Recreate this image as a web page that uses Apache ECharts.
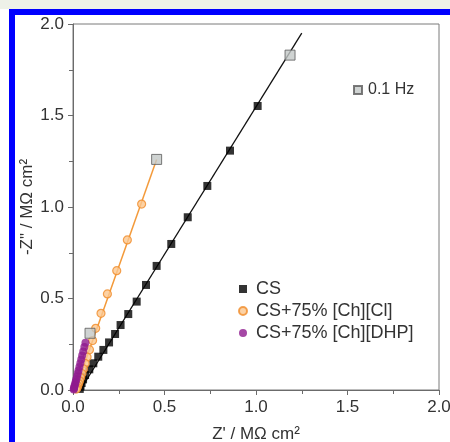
<!DOCTYPE html>
<html>
<head>
<meta charset="utf-8">
<script src="https://cdn.jsdelivr.net/npm/echarts@6/dist/echarts.min.js"></script>
<style>
html,body{margin:0;padding:0;background:#fff;}
#c{width:450px;height:442px;}
</style>
</head>
<body>
<div id="c"></div>
<script>
// ---- data, units MΩ cm² ----
const xTicks = [0, 0.5, 1.0, 1.5, 2.0];
const yTicks = [0, 0.5, 1.0, 1.5, 2.0];

const csX = [1.009, 0.858, 0.734, 0.627, 0.537, 0.457, 0.399, 0.348, 0.302, 0.260, 0.230, 0.197, 0.166, 0.138, 0.111, 0.089, 0.066, 0.055, 0.047, 0.041, 0.037];
const csY = [1.552, 1.308, 1.115, 0.944, 0.798, 0.678, 0.574, 0.483, 0.415, 0.355, 0.306, 0.260, 0.219, 0.182, 0.146, 0.113, 0.082, 0.058, 0.038, 0.020, 0.006];

const clX = [0.375, 0.297, 0.239, 0.188, 0.153, 0.124, 0.107, 0.090, 0.077, 0.066, 0.057, 0.049, 0.042, 0.036, 0.031, 0.026, 0.022, 0.018];
const clY = [1.016, 0.820, 0.652, 0.525, 0.419, 0.337, 0.270, 0.220, 0.180, 0.145, 0.115, 0.090, 0.068, 0.050, 0.035, 0.022, 0.012, 0.005];

const dhpX = [0.068, 0.062, 0.056, 0.050, 0.045, 0.040, 0.035, 0.030, 0.026, 0.022, 0.018, 0.015, 0.012, 0.009, 0.007, 0.005, 0.004];
const dhpY = [0.258, 0.235, 0.210, 0.188, 0.166, 0.146, 0.126, 0.107, 0.090, 0.074, 0.059, 0.046, 0.034, 0.024, 0.015, 0.008, 0.003];

// 0.1 Hz points (CS, CS+75% [Ch][Cl], CS+75% [Ch][DHP])
const hzX = [1.186, 0.457, 0.093];
const hzY = [1.830, 1.260, 0.310];

// fit lines (endpoints)
const csFitX = [0.040, 1.250];
const csFitY = [0.000, 1.950];
const clFitX = [0.012, 0.457];
const clFitY = [0.000, 1.260];

const names = ['CS', 'CS+75% [Ch][Cl]', 'CS+75% [Ch][DHP]', '0.1 Hz'];

const zip = (a, b) => a.map((v, i) => [v, b[i]]);
const FONT = "'Liberation Sans', Arial, sans-serif";

const chart = echarts.init(document.getElementById('c'), null, {renderer: 'canvas'});

const axisCommon = {
  min: 0, max: 2, interval: 0.5,
  axisLine: {show: true, onZero: false, lineStyle: {color: '#6b6b6b', width: 1}},
  axisTick: {show: true, inside: false, length: 5, lineStyle: {color: '#6b6b6b'}},
  minorTick: {show: true, splitNumber: 2, length: 4, lineStyle: {color: '#6b6b6b'}},
  splitLine: {show: false},
  axisLabel: {color: '#333', fontSize: 17, fontFamily: FONT, margin: 9,
    formatter: v => v.toFixed(1)},
  nameLocation: 'middle',
  nameMoveOverlap: false,
  nameTextStyle: {color: '#333', fontSize: 17, fontFamily: FONT}
};

chart.setOption({
  animation: false,
  backgroundColor: '#fff',
  graphic: [
    {type: 'rect', shape: {x: 0, y: 0, width: 450, height: 9}, style: {fill: '#eef1e8'}, z: -10},
    {type: 'rect', shape: {x: 9, y: 9, width: 441, height: 6}, style: {fill: '#0000ff'}, z: -10},
    {type: 'rect', shape: {x: 9, y: 9, width: 6, height: 433}, style: {fill: '#0000ff'}, z: -10}
  ],
  grid: {left: 73, right: 11, top: 24, bottom: 52, containLabel: false, outerBoundsMode: 'none',
    show: true, borderColor: '#7a7a7a', borderWidth: 1, backgroundColor: 'transparent'},
  xAxis: Object.assign({}, axisCommon, {
    type: 'value', name: "Z' / MΩ cm²", nameGap: 36
  }),
  yAxis: Object.assign({}, axisCommon, {
    type: 'value', name: '-Z" / MΩ cm²', nameGap: 37, nameRotate: 90
  }),
  legend: [
    {
      data: [names[0], names[1], names[2]],
      orient: 'vertical', left: 233, top: 275,
      itemWidth: 8, itemHeight: 8, itemGap: 4,
      textStyle: {color: '#333', fontSize: 18, fontFamily: FONT, lineHeight: 18, padding: [0, 0, 0, 4]},
      selectedMode: false
    },
    {
      data: [names[3]],
      orient: 'vertical', left: 348, top: 77,
      itemWidth: 8, itemHeight: 8,
      textStyle: {color: '#333', fontSize: 16, fontFamily: FONT, padding: [0, 0, 0, 1]},
      selectedMode: false
    }
  ],
  series: [
    {type: 'line', data: zip(csFitX, csFitY), symbol: 'none', lineStyle: {color: '#111', width: 1.3}, z: 1, silent: true},
    {type: 'line', data: zip(clFitX, clFitY), symbol: 'none', lineStyle: {color: '#f39a3a', width: 1.5}, z: 1, silent: true},
    {name: names[0], type: 'scatter', data: zip(csX, csY), symbol: 'rect', symbolSize: 8,
      itemStyle: {color: '#000'}, z: 3},
    {name: names[1], type: 'scatter', data: zip(clX, clY), symbol: 'circle', symbolSize: 8,
      itemStyle: {color: '#fbc78f', borderColor: '#f08c2a', borderWidth: 1.2}, z: 3},
    {name: names[2], type: 'scatter', data: zip(dhpX, dhpY), symbol: 'circle', symbolSize: 8,
      itemStyle: {color: '#8e1a8e'}, z: 4},
    {name: names[3], type: 'scatter', data: zip(hzX, hzY), symbol: 'rect', symbolSize: 10,
      itemStyle: {color: '#c3c8c7', borderColor: '#5a5a5a', borderWidth: 1}, z: 5}
  ]
});
</script>
</body>
</html>
